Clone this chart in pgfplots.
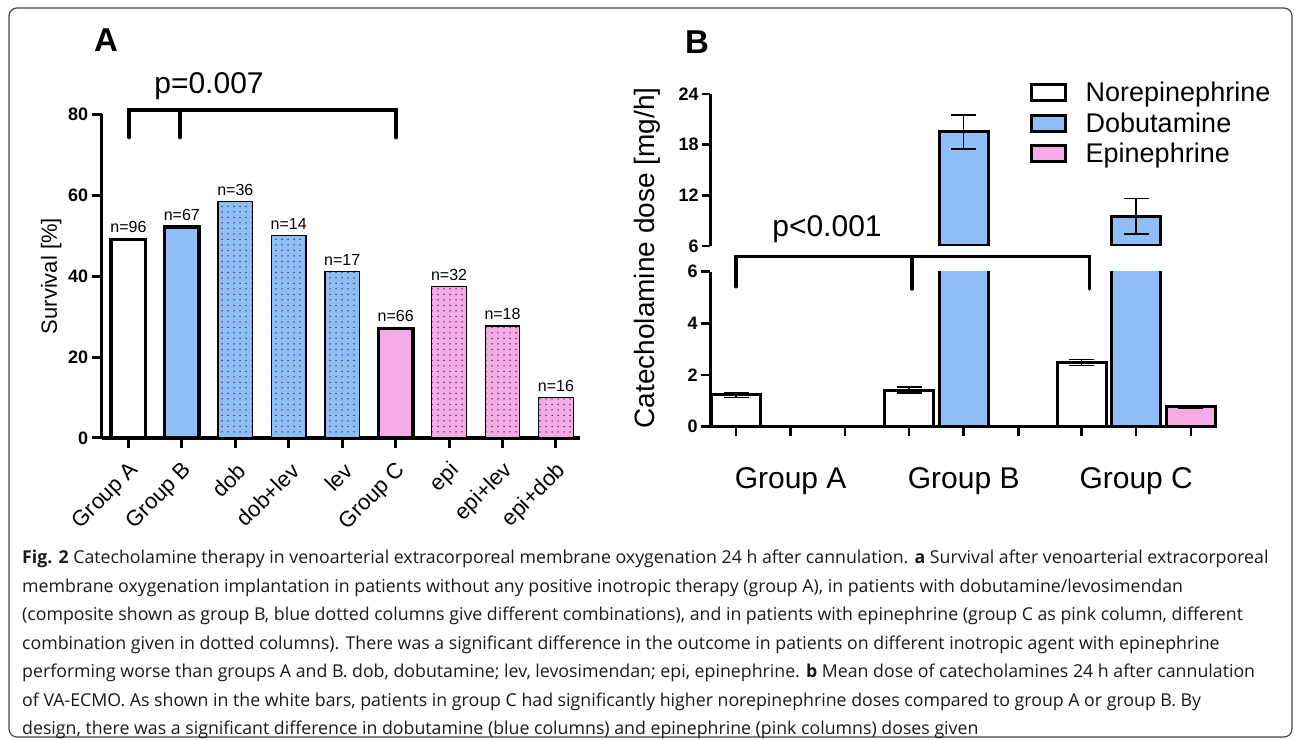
\documentclass[border=0pt]{standalone}
\usepackage{fontspec}
\setmainfont{Liberation Sans}
\newfontfamily\capfont{Open Sans}
\usepackage{pgfplots}
\pgfplotsset{compat=1.18}
\usetikzlibrary{patterns}

\definecolor{barblue}{RGB}{143,189,246}
\definecolor{barpink}{RGB}{246,170,230}
\definecolor{framegray}{RGB}{70,70,70}

\pgfdeclarepatternformonly{sdots}{\pgfqpoint{-1bp}{-1bp}}{\pgfqpoint{1bp}{1bp}}{\pgfqpoint{6bp}{5.5bp}}{%
  \pgfpathcircle{\pgfqpoint{0bp}{0bp}}{0.75bp}\pgfusepath{fill}}

\newcommand{\fs}[1]{\fontsize{#1bp}{#1bp}\selectfont}

\newsavebox\capone
\begin{document}
\sbox\capone{\capfont\fs{17}\textbf{Fig. 2} Catecholamine therapy in venoarterial extracorporeal membrane oxygenation 24 h after cannulation. \textbf{a} Survival after venoarterial extracorporeal}%
\pgfmathsetmacro\capratio{1255.7/\wd\capone}%
\pgfmathsetmacro\capsize{17*\capratio}%
\begin{tikzpicture}[x=1bp,y=1bp]
\path (0,0) rectangle (1295,740);
\draw[framegray, line width=1.2bp, rounded corners=8bp] (9,3) rectangle (1292,732);

% ---------------- Panel A ----------------
\node[font=\bfseries\fs{33}] at (106,700) {A};
\begin{axis}[
  at={(101.7bp,302bp)}, anchor=south west, scale only axis,
  width=478.3bp, height=323.7bp,
  xmin=-0.5, xmax=8.45, ymin=0, ymax=80,
  axis x line=bottom, axis y line=left,
  axis line style={line width=3.5bp, -},
  tick style={line width=3bp, black},
  major tick length=10bp,
  xtick align=outside, ytick align=outside,
  ytick={0,20,40,60,80}, yticklabels={0,20,40,60,80},
  yticklabel style={font=\bfseries\fs{18}},
  xtick={0,...,8},
  xticklabels={Group A,Group B,dob,dob+lev,lev,Group C,epi,epi+lev,epi+dob},
  xticklabel style={xshift=9bp, yshift=-17bp, rotate=45, anchor=east, font=\fs{22}},
  ylabel={Survival [\%]}, ylabel style={font=\fs{22}},
  clip=false,
  mybar/.style={ybar, bar width=0.645, bar shift=0pt, draw=black},
]
\addplot[mybar, fill=white, line width=3.5bp] coordinates {(0,49.1)};
\addplot[mybar, fill=barblue, line width=3.5bp] coordinates {(1,52.2)};
\addplot[mybar, fill=barblue, line width=1.2bp, postaction={pattern=sdots, pattern color=black!85}] coordinates {(2,58.4) (3,50.0) (4,41.1)};
\addplot[mybar, fill=barpink, line width=3.5bp] coordinates {(5,27.1)};
\addplot[mybar, fill=barpink, line width=1.2bp, postaction={pattern=sdots, pattern color=black!85}] coordinates {(6,37.4) (7,27.7) (8,10.0)};
\foreach \xx/\yy/\nn in {0/49.1/96, 1/52.2/67, 2/58.4/36, 3/50.0/14, 4/41.1/17, 5/27.1/66, 6/37.4/32, 7/27.7/18, 8/10.0/16}{
  \edef\tmp{\noexpand\node[anchor=base, yshift=6.5bp, font=\noexpand\fs{16}] at (axis cs:\xx,\yy) {n=\nn};}\tmp
}
\end{axis}
\node[font=\fs{30}, anchor=base] at (209,646) {p=0.007};
\draw[line width=4bp, line cap=round, line join=miter] (129,602.7) -- (129,630) -- (395.7,630) -- (395.7,602.7);
\draw[line width=4bp, line cap=round] (180,630) -- (180,602.7);

% ---------------- Panel B ----------------
\node[font=\bfseries\fs{33}] at (697,698) {B};
\node[font=\fs{28}, rotate=90] at (647,482) {Catecholamine dose [mg/h]};

% upper segment
\begin{axis}[
  at={(710.2bp,494bp)}, anchor=south west, scale only axis,
  width=506.8bp, height=152bp,
  xmin=-0.473, xmax=8.81, ymin=6, ymax=24,
  axis y line=left, axis x line=none,
  axis line style={line width=3bp, -},
  tick style={line width=2.5bp, black},
  major tick length=8bp, ytick align=outside,
  ytick={6,12,18,24}, yticklabels={6,12,18,24},
  yticklabel style={font=\bfseries\fs{18}},
  xtick=\empty,
  legend style={at={(0.631,1.092)}, anchor=north west, draw=none, fill=none,
    inner sep=0pt, font=\fs{27}, row sep=5.5bp, nodes={inner sep=2bp}},
  legend cell align=left,
  legend image code/.code={\draw[#1, line width=3bp] (0bp,-8bp) rectangle (34bp,8bp); \path[draw=none, fill=none] (0bp,0bp) -- (52bp,0bp);},
  bbar/.style={ybar, bar width=0.9, bar shift=0pt, draw=black, line width=3bp},
  error bars/error bar style={line width=1.5bp, black},
  error bars/error mark options={rotate=90, mark size=12.5bp, line width=1.5bp, black},
]
\addplot[bbar, fill=barblue, forget plot, error bars/.cd, y dir=both, y explicit]
  coordinates {(4.17,19.5) +- (0,2.0) (7.33,9.5) +- (0,2.1)};
\addlegendimage{fill=white, draw=black}
\addlegendentry{Norepinephrine}
\addlegendimage{fill=barblue, draw=black}
\addlegendentry{Dobutamine}
\addlegendimage{fill=barpink, draw=black}
\addlegendentry{Epinephrine}
\end{axis}

% lower segment
\begin{axis}[
  at={(710.2bp,313.3bp)}, anchor=south west, scale only axis,
  width=506.8bp, height=155bp,
  xmin=-0.473, xmax=8.81, ymin=0, ymax=6,
  axis y line=left, axis x line=bottom,
  axis line style={line width=3bp, -},
  tick style={line width=2.5bp, black},
  major tick length=9bp, ytick align=outside, xtick align=outside,
  ytick={0,2,4,6}, yticklabels={0,2,4,6},
  yticklabel style={font=\bfseries\fs{18}},
  xtick={0,1,2,3.17,4.17,5.17,6.33,7.33,8.33},
  xticklabels={,Group A,,,Group B,,,Group C,},
  xticklabel style={font=\fs{30}, yshift=-28bp},
  bbar/.style={ybar, bar width=0.9, bar shift=0pt, draw=black, line width=3bp},
  error bars/error bar style={line width=1.5bp, black},
  error bars/error mark options={rotate=90, mark size=12.5bp, line width=1.5bp, black},
]
\addplot[bbar, fill=white, error bars/.cd, y dir=both, y explicit]
  coordinates {(0,1.23) +- (0,0.1) (3.17,1.42) +- (0,0.12) (6.33,2.49) +- (0,0.12)};
\addplot[bbar, fill=barblue] coordinates {(4.17,19.5) (7.33,9.5)};
\addplot[bbar, fill=barpink, error bars/.cd, y dir=both, y explicit]
  coordinates {(8.33,0.77) +- (0,0.05)};
\end{axis}
\node[font=\fs{30}, anchor=base] at (827,503) {p<0.001};
\draw[line width=3.5bp, line cap=round, line join=miter] (736,453.3) -- (736,483.3) -- (1089.5,483.3) -- (1089.5,451);
\draw[line width=3.5bp, line cap=round] (912,483.3) -- (912,451);

% ---------------- Caption ----------------
\begin{scope}[every node/.style={anchor=base west, inner sep=0pt, font=\capfont\fontsize{\capsize pt}{\capsize pt}\selectfont, text=black!90}]
\node at (22,176) {\textbf{Fig. 2} Catecholamine therapy in venoarterial extracorporeal membrane oxygenation 24 h after cannulation. \textbf{a} Survival after venoarterial extracorporeal};
\node at (22,147.5) {membrane oxygenation implantation in patients without any positive inotropic therapy (group A), in patients with dobutamine/levosimendan};
\node at (22,119) {(composite shown as group B, blue dotted columns give different combinations), and in patients with epinephrine (group C as pink column, different};
\node at (22,90.5) {combination given in dotted columns). There was a significant difference in the outcome in patients on different inotropic agent with epinephrine};
\node at (22,62) {performing worse than groups A and B. dob, dobutamine; lev, levosimendan; epi, epinephrine. \textbf{b} Mean dose of catecholamines 24 h after cannulation};
\node at (22,33.5) {of VA-ECMO. As shown in the white bars, patients in group C had significantly higher norepinephrine doses compared to group A or group B. By};
\node at (22,5) {design, there was a significant difference in dobutamine (blue columns) and epinephrine (pink columns) doses given};
\end{scope}
\end{tikzpicture}
\end{document}
